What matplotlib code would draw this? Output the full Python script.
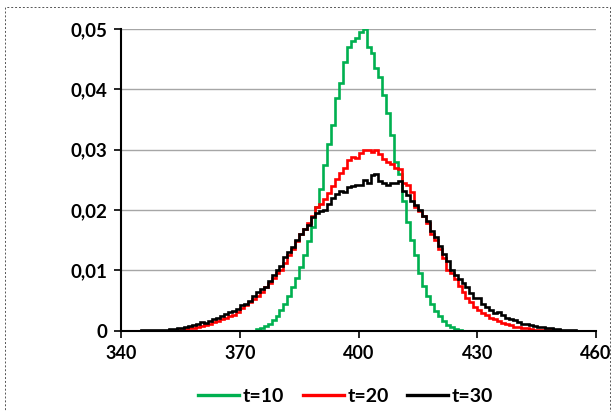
import numpy as np
import matplotlib.pyplot as plt
from matplotlib.ticker import FuncFormatter
from matplotlib.patches import Rectangle
from matplotlib.lines import Line2D

# bins of width 1; each series starts at its own first bin
green_start = 373
green = [0, 0.0003, 0.0005, 0.0008, 0.0012, 0.0018, 0.0025, 0.0035, 0.0045, 0.0058,
         0.0072, 0.0088, 0.0105, 0.0125, 0.0148, 0.0172, 0.0205, 0.0235, 0.0275, 0.031,
         0.034, 0.0385, 0.041, 0.0445, 0.047, 0.048, 0.0485, 0.0495, 0.050, 0.047,
         0.046, 0.0435, 0.042, 0.039, 0.036, 0.0325, 0.028, 0.026, 0.0215, 0.018,
         0.015, 0.0125, 0.0095, 0.0075, 0.0058, 0.0045, 0.0033, 0.0024, 0.0016, 0.0010,
         0.0006, 0.0003, 0.0001]

red_start = 352
red = [0.0001, 0.0001, 0.0002, 0.0002, 0.0003, 0.0004, 0.0005, 0.0006, 0.0008, 0.0010,
       0.0012, 0.0014, 0.0017, 0.0020, 0.0022, 0.0024, 0.0027, 0.0032, 0.0038, 0.0043,
       0.0048, 0.0053, 0.0058, 0.0065, 0.0072, 0.0080, 0.0088, 0.0095, 0.0100, 0.0112,
       0.0125, 0.0135, 0.0148, 0.0160, 0.0168, 0.0178, 0.0190, 0.0205, 0.0210, 0.0218,
       0.0228, 0.0240, 0.0252, 0.0262, 0.0270, 0.0283, 0.0288, 0.0286, 0.0295, 0.0300,
       0.0300, 0.0296, 0.0300, 0.0292, 0.0285, 0.0280, 0.0276, 0.0270, 0.0268, 0.0244,
       0.0242, 0.0230, 0.0205, 0.0198, 0.0190, 0.0178, 0.0160, 0.0150, 0.0135, 0.0120,
       0.0100, 0.0095, 0.0085, 0.0075, 0.0065, 0.0055, 0.0048, 0.0040, 0.0035, 0.0030,
       0.0026, 0.0022, 0.0019, 0.0016, 0.0013, 0.0011, 0.0009, 0.0007, 0.0006, 0.0005,
       0.0004, 0.0003, 0.0002, 0.0002, 0.0001, 0.0001, 0.0001]

black_start = 345
black = [0.0001, 0.0001, 0.0001, 0.0001, 0.0002, 0.0002, 0.0002, 0.0003, 0.0003, 0.0004,
         0.0005, 0.0006, 0.0008, 0.0009, 0.0011, 0.0014, 0.0013, 0.0016, 0.0019, 0.0022,
         0.0025, 0.0028, 0.0031, 0.0033, 0.0036, 0.0042, 0.0044, 0.0050, 0.0058, 0.0065,
         0.0070, 0.0072, 0.0082, 0.0092, 0.0100, 0.0108, 0.0122, 0.0130, 0.0138, 0.0150,
         0.0160, 0.0168, 0.0175, 0.0188, 0.0195, 0.0198, 0.0200, 0.0210, 0.0220, 0.0226,
         0.0232, 0.0230, 0.0238, 0.0240, 0.0242, 0.0242, 0.0250, 0.0245, 0.0258, 0.0260,
         0.0248, 0.0245, 0.0242, 0.0245, 0.0244, 0.0248, 0.0232, 0.0225, 0.0215, 0.0208,
         0.0200, 0.0190, 0.0182, 0.0165, 0.0155, 0.0140, 0.0128, 0.0115, 0.0100, 0.0092,
         0.0086, 0.0080, 0.0072, 0.0062, 0.0055, 0.0054, 0.0045, 0.0040, 0.0034, 0.0030,
         0.0031, 0.0026, 0.0022, 0.0020, 0.0018, 0.0015, 0.0012, 0.0011, 0.0009, 0.0008,
         0.0007, 0.0006, 0.0005, 0.0004, 0.0003, 0.0003, 0.0002, 0.0002, 0.0001, 0.0001]

labels = ['t=10', 't=20', 't=30']
colors = ['#00B050', '#FF0000', '#000000']
x_min, x_max = 340, 460


def pad(vals, start):
    # fill the full 340..460 range with zeros outside the series
    full = np.zeros(x_max - x_min)
    full[start - x_min:start - x_min + len(vals)] = vals
    return full


plt.rcParams['font.family'] = ['Lato', 'DejaVu Sans']
fig = plt.figure(figsize=(6.12, 4.12), dpi=100)
ax = fig.add_axes([0.198, 0.197, 0.776, 0.733])

edges = np.arange(x_min, x_max + 1)
for vals, start, c, lab in zip([green, red, black], [green_start, red_start, black_start], colors, labels):
    ax.stairs(pad(vals, start), edges, color=c, lw=1.9, label=lab, baseline=None)

ax.set_xlim(x_min, x_max)
ax.set_ylim(0, 0.05)
ax.set_xticks([340, 370, 400, 430, 460])
ax.set_yticks([0, 0.01, 0.02, 0.03, 0.04, 0.05])
ax.yaxis.set_major_formatter(FuncFormatter(lambda v, p: '0' if v == 0 else ('%.2f' % v).replace('.', ',')))
ax.grid(axis='y', color='#A6A6A6', lw=1)
ax.set_axisbelow(True)
for s in ['top', 'right']:
    ax.spines[s].set_visible(False)
ax.spines['left'].set_linewidth(1.5)
ax.spines['bottom'].set_linewidth(1.5)
ax.tick_params(direction='out', length=5, width=1.2, labelsize=13.5, pad=5)
ax.tick_params(axis='x', labelsize=13)
for t in ax.get_xticklabels() + ax.get_yticklabels():
    t.set_fontweight('bold')

handles = [Line2D([], [], color=c, lw=2.4) for c in colors]
fig.legend(handles, labels, loc='lower center', bbox_to_anchor=(0.565, -0.025), ncol=3,
           frameon=False, prop={'size': 14, 'weight': 'bold'},
           handlelength=2.1, handletextpad=0.2, columnspacing=0.95)

fig.patches.append(Rectangle((5 / 612, -0.1), 605 / 612, 1.1 - 7 / 412, transform=fig.transFigure,
                             fill=False, ls=(0, (2, 2)), lw=0.7, ec='#555555'))

fig.savefig('out.png', dpi=100)
